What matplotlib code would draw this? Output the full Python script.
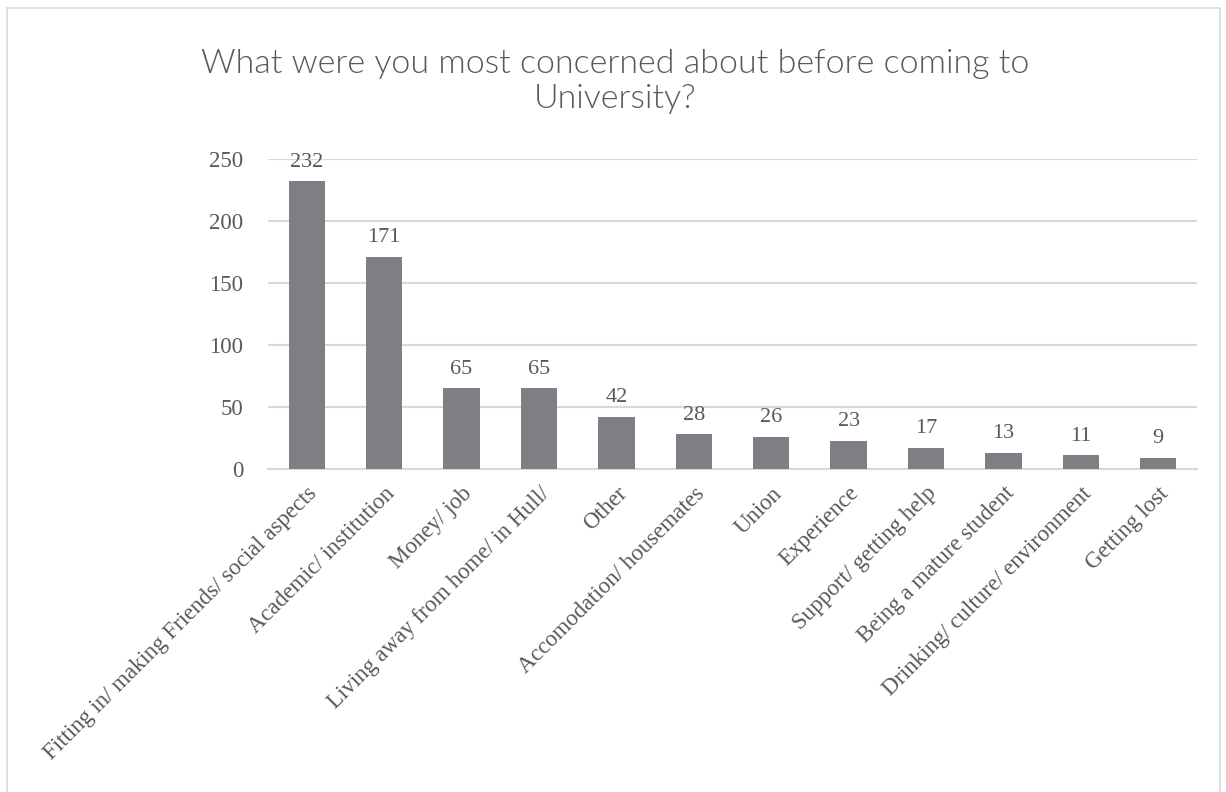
import matplotlib.pyplot as plt
from matplotlib.patches import Rectangle

categories = ['Fitting in/ making Friends/ social aspects', 'Academic/ institution',
              'Money/ job', 'Living away from home/ in Hull/', 'Other',
              'Accomodation/ housemates', 'Union', 'Experience',
              'Support/ getting help', 'Being a mature student',
              'Drinking/ culture/ environment', 'Getting lost']
counts = [232, 171, 65, 65, 42, 28, 26, 23, 17, 13, 11, 9]
yticks = [0, 50, 100, 150, 200, 250]

text_col = '#595959'
bar_col = '#7f7e84'
serif = ['Liberation Serif', 'DejaVu Serif']

fig = plt.figure(figsize=(12.26, 7.92), dpi=100)
ax = fig.add_axes([0.2186, 0.4078, 0.7577, 0.3914])

x = range(len(categories))
ax.bar(x, counts, width=0.47, color=bar_col, zorder=3)
for xi, v in zip(x, counts):
    ax.annotate(str(v), (xi, v), xytext=(0, 7), textcoords='offset points',
                ha='center', va='bottom', fontsize=16, color=text_col, family=serif)

ax.set_xlim(-0.5, len(categories) - 0.5)
ax.set_ylim(0, 250)
ax.set_yticks(yticks)
ax.set_yticklabels([str(t) for t in yticks], fontsize=16.5, color=text_col, family=serif)
ax.set_xticks(list(x))
ax.set_xticklabels(categories, rotation=45, ha='right', rotation_mode='anchor',
                   fontsize=16.5, color=text_col, family=serif)
ax.tick_params(length=0, pad=18)
ax.tick_params(axis='x', pad=10)
ax.grid(axis='y', color='#d9d9d9', linewidth=1.5, zorder=0)
for s in ['top', 'right', 'left']:
    ax.spines[s].set_visible(False)
ax.spines['bottom'].set_color('#d9d9d9')
ax.spines['bottom'].set_linewidth(1.5)

fig.text(0.502, 0.897, 'What were you most concerned about before coming to\nUniversity?',
         ha='center', va='center', fontsize=24.5, color='#595959',
         family=['Lato', 'DejaVu Sans'], fontweight=300, linespacing=1.2)

fig.patches.append(Rectangle((0.006, -0.01), 0.989, 1.0, transform=fig.transFigure,
                             fill=False, edgecolor='#d9d9d9', linewidth=1.2))

fig.savefig('out.png', dpi=100)
